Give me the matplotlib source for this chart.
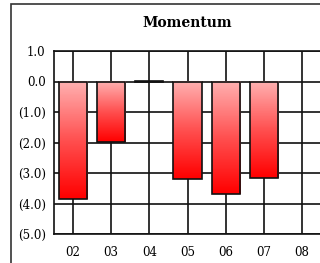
import numpy as np
import matplotlib.pyplot as plt
from matplotlib.colors import LinearSegmentedColormap
from matplotlib.patches import Rectangle

# chart data
periods = ["02", "03", "04", "05", "06", "07", "08"]
momentum = [-3.84, -1.97, 0.03, -3.19, -3.68, -3.16, None]
y_ticks = [1, 0, -1, -2, -3, -4, -5]
y_labels = ["1.0", "0.0", "(1.0)", "(2.0)", "(3.0)", "(4.0)", "(5.0)"]

fig = plt.figure(figsize=(3.2, 2.63), dpi=100)
fig.patch.set_facecolor("white")

# outer frame (runs off the right and bottom edges like the original)
fig.patches.append(Rectangle((11 / 320, -0.1), 1.2, 1 - 4 / 263 + 0.1,
                             transform=fig.transFigure, fill=False,
                             edgecolor="#333333", linewidth=1.2))

ax = fig.add_axes([54 / 320, 29 / 263, 267 / 320, 183 / 263])
ax.set_xlim(-0.5, len(periods) - 0.5)
ax.set_ylim(-5, 1)

ax.set_yticks(y_ticks)
ax.set_yticklabels(y_labels)
ax.set_xticks(range(len(periods)))
ax.set_xticklabels(periods)
ax.tick_params(length=0, labelsize=8.5)
for lab in ax.get_xticklabels() + ax.get_yticklabels():
    lab.set_fontfamily("DejaVu Serif")
ax.tick_params(axis="y", pad=6)
ax.tick_params(axis="x", pad=9)

ax.grid(True, color="#111111", linewidth=1.2)
ax.set_axisbelow(True)
for s in ax.spines.values():
    s.set_color("#111111")
    s.set_linewidth(1.2)

cmap = LinearSegmentedColormap.from_list("rg", ["#ffb0b0", "#ff5050", "#ff0000"])
grad = np.linspace(0, 1, 100).reshape(-1, 1)
width = 0.74
for i, v in enumerate(momentum):
    if v is None:
        continue
    if abs(v) > 0.1:
        ax.imshow(grad, cmap=cmap, aspect="auto", zorder=2,
                  extent=[i - width / 2, i + width / 2, v, 0], origin="upper")
    ax.bar(i, v, width=width, facecolor="none", edgecolor="#111111",
           linewidth=1.2, zorder=3)
ax.set_xlim(-0.5, len(periods) - 0.5)
ax.set_ylim(-5, 1)

fig.text(187 / 320, 1 - 23 / 263, "Momentum", ha="center", va="center",
         fontsize=10, fontweight="bold", fontfamily="DejaVu Serif")

fig.savefig("out.png", dpi=100)
